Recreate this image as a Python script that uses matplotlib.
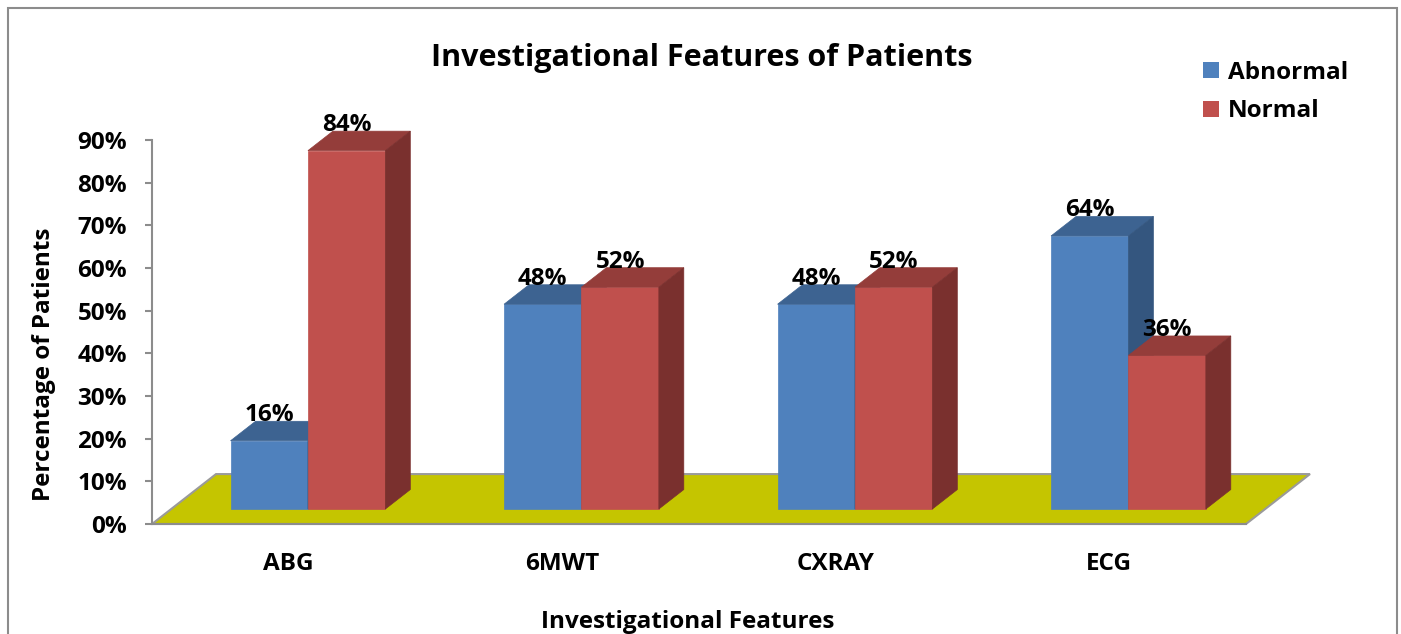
import numpy as np
import matplotlib.pyplot as plt
from matplotlib.patches import Polygon, Rectangle, Patch
from matplotlib.ticker import PercentFormatter

# chart data
categories = ["ABG", "6MWT", "CXRAY", "ECG"]
abnormal = [16, 48, 48, 64]
normal = [84, 52, 52, 36]
series_names = ["Abnormal", "Normal"]

# colours: front, top, side
BLUE = ("#4F81BD", "#3D6391", "#34567F")
RED = ("#C0504D", "#943D3A", "#7A302E")
FLOOR = "#C5C500"
GREY = "#8C8C8C"

# fake 3d: depth direction in data units
FLOOR_DX = 0.234
FLOOR_DY = 11.7
D_FRONT = 0.30
D_BACK = 0.69
BAR_W = 0.283

plt.rcParams["font.family"] = ["Open Sans", "DejaVu Sans"]
plt.rcParams["font.weight"] = "bold"
FS = 17.5


def proj(x, h, d):
    return (x + d * FLOOR_DX, h + d * FLOOR_DY)


def bar3d(ax, x0, x1, v, cols):
    front = [proj(x0, 0, D_FRONT), proj(x1, 0, D_FRONT), proj(x1, v, D_FRONT), proj(x0, v, D_FRONT)]
    top = [proj(x0, v, D_FRONT), proj(x1, v, D_FRONT), proj(x1, v, D_BACK), proj(x0, v, D_BACK)]
    side = [proj(x1, 0, D_FRONT), proj(x1, 0, D_BACK), proj(x1, v, D_BACK), proj(x1, v, D_FRONT)]
    for pts, c in zip((front, top, side), cols):
        ax.add_patch(Polygon(pts, closed=True, facecolor=c, edgecolor=c, lw=0.5, clip_on=False, zorder=3))
    cx = (x0 + x1) / 2 + D_FRONT * FLOOR_DX
    ax.text(cx, v + D_BACK * FLOOR_DY, f"{v}%", ha="center", va="baseline",
            fontsize=FS, fontweight="bold", zorder=5)


fig = plt.figure(figsize=(14.01, 6.34), dpi=100)
ax = fig.add_axes([152 / 1401, 110 / 634, 1094 / 1401, 384 / 634])
n = len(categories)
ax.set_xlim(0, n)
ax.set_ylim(0, 90)

# floor
floor = [proj(0, 0, 0), proj(n, 0, 0), proj(n, 0, 1), proj(0, 0, 1)]
ax.add_patch(Polygon(floor, closed=True, facecolor=FLOOR, edgecolor="#9A9A9A", lw=1.5,
                     clip_on=False, zorder=1))

for i in range(n):
    c = i + 0.5
    bar3d(ax, c - BAR_W, c, abnormal[i], BLUE)
    bar3d(ax, c, c + BAR_W, normal[i], RED)

for s in ("top", "right"):
    ax.spines[s].set_visible(False)
for s in ("left", "bottom"):
    ax.spines[s].set_color(GREY)
    ax.spines[s].set_linewidth(1.5)
    ax.spines[s].set_zorder(2)

ax.set_yticks(np.arange(0, 91, 10))
ax.yaxis.set_major_formatter(PercentFormatter(decimals=0))
ax.tick_params(axis="y", length=5, width=1.5, color=GREY, pad=13, labelsize=FS)
ax.set_xticks(np.arange(n) + 0.5)
ax.set_xticklabels(categories)
ax.tick_params(axis="x", length=0, pad=20, labelsize=FS)
for t in ax.get_xticklabels() + ax.get_yticklabels():
    t.set_fontweight("bold")

fig.text(702 / 1401, 1 - 58 / 634, "Investigational Features of Patients",
         ha="center", va="center", fontsize=22, fontweight="bold")
fig.text(688 / 1401, 1 - 622 / 634, "Investigational Features",
         ha="center", va="center", fontsize=FS, fontweight="bold")
fig.text(44 / 1401, 1 - 364 / 634, "Percentage of Patients", rotation=90,
         ha="center", va="center", fontsize=FS, fontweight="bold")

handles = [Patch(facecolor=BLUE[0]), Patch(facecolor=RED[0])]
fig.legend(handles, series_names, loc="center left",
           bbox_to_anchor=(1203 / 1401, 1 - 92 / 634), bbox_transform=fig.transFigure,
           frameon=False, handlelength=0.66, handleheight=0.66,
           handletextpad=0.35, labelspacing=0.6, borderpad=0, borderaxespad=0,
           prop={"weight": "bold", "size": FS})

# outer chart border
fig.add_artist(Rectangle((8 / 1401, -0.02), 1389 / 1401, 1.02 - 8 / 634,
                         transform=fig.transFigure, fill=False, edgecolor=GREY, lw=1.5))

fig.savefig("out.png", dpi=100)
